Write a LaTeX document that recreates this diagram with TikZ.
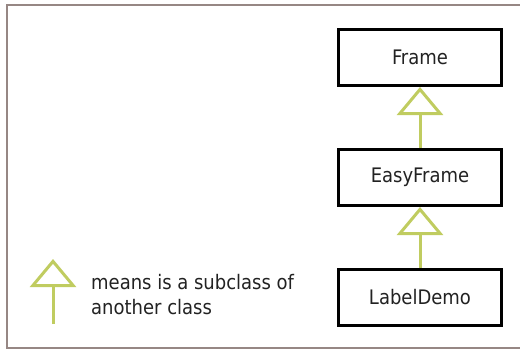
\documentclass[tikz,border=0pt]{standalone}
\usepackage{fontspec}
\setmainfont{DejaVu Sans Condensed}
\usetikzlibrary{arrows.meta}
\definecolor{gcol}{RGB}{192,204,96}
\definecolor{fcol}{RGB}{150,135,132}
\definecolor{tcol}{RGB}{34,34,34}
\tikzset{every picture/.style={x=1pt,y=-1pt}}
\tikzset{cls/.style={draw,line width=3pt,minimum width=163pt,minimum height=56pt,inner sep=0pt,text=tcol,font=\fontsize{20}{24}\selectfont}}
\tikzset{inherit/.style={gcol,line width=3pt,-{Triangle[open,width=46pt,length=28pt]}}}

\begin{document}
\begin{tikzpicture}
\useasboundingbox (0,0) rectangle (520,349);
\draw [fcol,line width=2.5pt] (7,5) rectangle (530,348);

\node [cls] (f) at (420,57.5) {Frame};
\node [cls] (e) at (420,177.5) {EasyFrame};
\node [cls] (l) at (420,297.5) {LabelDemo};

\draw [inherit] (e) -- (f);
\draw [inherit] (l) -- (e);

\coordinate (k1) at (53,324);
\coordinate (k2) at (53,259);
\draw [inherit] (k1) -- (k2);
\node [anchor=base west,align=left,inner sep=0pt,text=tcol,font=\fontsize{20}{25}\selectfont] (key) at (91,314) {means is a subclass of\\another class};
\end{tikzpicture}
\end{document}
